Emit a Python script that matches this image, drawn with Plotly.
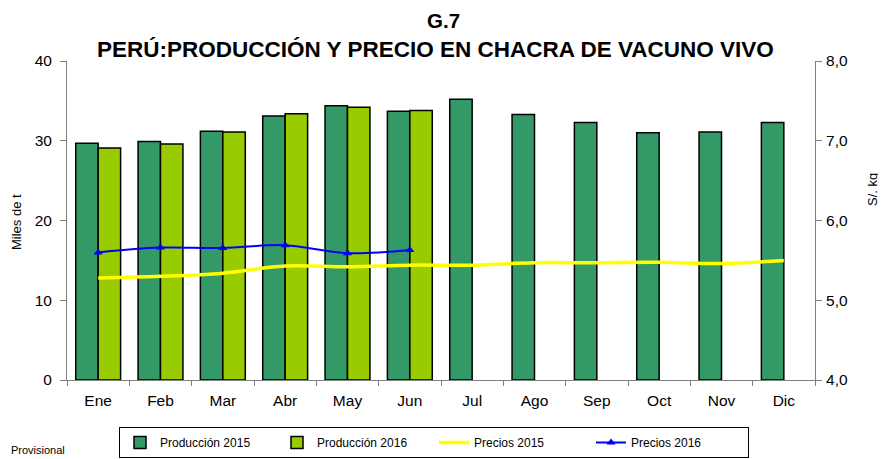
import plotly.graph_objects as go

meses = ["Ene", "Feb", "Mar", "Abr", "May", "Jun", "Jul", "Ago", "Sep", "Oct", "Nov", "Dic"]
prod_2015 = [29.7, 29.9, 31.2, 33.1, 34.4, 33.7, 35.2, 33.3, 32.3, 31.0, 31.1, 32.3]
prod_2016 = [29.1, 29.6, 31.1, 33.4, 34.2, 33.8, None, None, None, None, None, None]
precios_2015 = [5.28, 5.30, 5.34, 5.43, 5.42, 5.44, 5.44, 5.47, 5.47, 5.475, 5.46, 5.50]
precios_2016 = [5.60, 5.66, 5.655, 5.69, 5.59, 5.63, None, None, None, None, None, None]

FONT = "Liberation Sans, Arial, sans-serif"

fig = go.Figure()
fig.add_trace(go.Bar(x=meses, y=prod_2015, name="Producción 2015",
                     marker=dict(color="#339966", line=dict(color="black", width=1.5))))
fig.add_trace(go.Bar(x=meses, y=prod_2016, name="Producción 2016",
                     marker=dict(color="#99CC00", line=dict(color="black", width=1.5))))
fig.add_trace(go.Scatter(x=meses, y=precios_2015, name="Precios 2015", yaxis="y2",
                         mode="lines", line=dict(color="#FFFF00", width=3.5, shape="spline")))
fig.add_trace(go.Scatter(x=meses, y=precios_2016, name="Precios 2016", yaxis="y2",
                         mode="lines+markers", line=dict(color="#0000FF", width=2, shape="spline"),
                         marker=dict(symbol="triangle-up", size=8, color="#0000FF")))

# page body has an 8px margin; compensate so the plot lands where the reference has it
OFF = 8
W, H = 886 - OFF, 459 - OFF
L, T = 67 - OFF, 61 - OFF
B = H - (380 - OFF)
R = W - (815 - OFF)
plot_h = H - T - B
plot_w = W - L - R

def py(pix):
    return (H - B - (pix - OFF)) / plot_h

def px(pix):
    return ((pix - OFF) - L) / plot_w

fig.update_layout(
    width=W, height=H,
    margin=dict(l=L, r=R, t=T, b=B, autoexpand=False),
    paper_bgcolor="white", plot_bgcolor="white",
    font=dict(family=FONT, color="black", size=14),
    separators=",.",
    barmode="group", bargap=0.28, bargroupgap=0,
    showlegend=True,
    legend=dict(orientation="h", x=px(434), xanchor="center", y=py(427), yanchor="top",
                bordercolor="black", borderwidth=1, bgcolor="white",
                font=dict(size=12, family=FONT), entrywidth=112, traceorder="normal"),
    xaxis=dict(range=[-0.5, len(meses) - 0.5], showline=True, linecolor="#808080", linewidth=1,
               ticks="outside", tickson="boundaries", ticklen=5, tickcolor="#808080",
               automargin=False, tickfont=dict(size=15.5), showgrid=False, ticklabelstandoff=6),
    yaxis=dict(range=[0, 40], dtick=10, showline=True, linecolor="#808080", linewidth=1,
               ticks="outside", ticklen=6, tickcolor="#808080", showgrid=False, zeroline=False,
               tickfont=dict(size=15.5), automargin=False, ticklabelstandoff=5),
    yaxis2=dict(range=[4, 8], dtick=1, tickformat=".1f", overlaying="y", side="right",
                showline=True, linecolor="#808080", linewidth=1, ticks="outside", ticklen=6,
                tickcolor="#808080", showgrid=False, zeroline=False, tickfont=dict(size=15.5),
                automargin=False, ticklabelstandoff=1),
    annotations=[
        dict(text="<b>G.7</b>", x=px(443), xref="paper", y=py(20), yref="paper", yanchor="middle",
             showarrow=False, font=dict(size=20.5, family=FONT)),
        dict(text="<b>PERÚ:PRODUCCIÓN Y PRECIO EN CHACRA DE VACUNO VIVO</b>", xref="paper",
             yref="paper", x=px(435), y=py(50), yanchor="middle", showarrow=False,
             font=dict(size=22.5, family=FONT)),
        dict(text="Miles de t", xref="paper", yref="paper", x=px(16), y=py(222),
             xanchor="center", yanchor="middle", textangle=-90, showarrow=False,
             font=dict(size=13, family=FONT)),
        dict(text="S/. kg", xref="paper", yref="paper", x=px(872), y=py(190),
             xanchor="center", yanchor="middle", textangle=-90, showarrow=False,
             font=dict(size=13, family=FONT)),
        dict(text="Provisional", xref="paper", yref="paper", x=px(9), y=py(450),
             xanchor="left", yanchor="middle", showarrow=False,
             font=dict(size=11, family=FONT)),
    ],
)

fig.write_html("out.html")
